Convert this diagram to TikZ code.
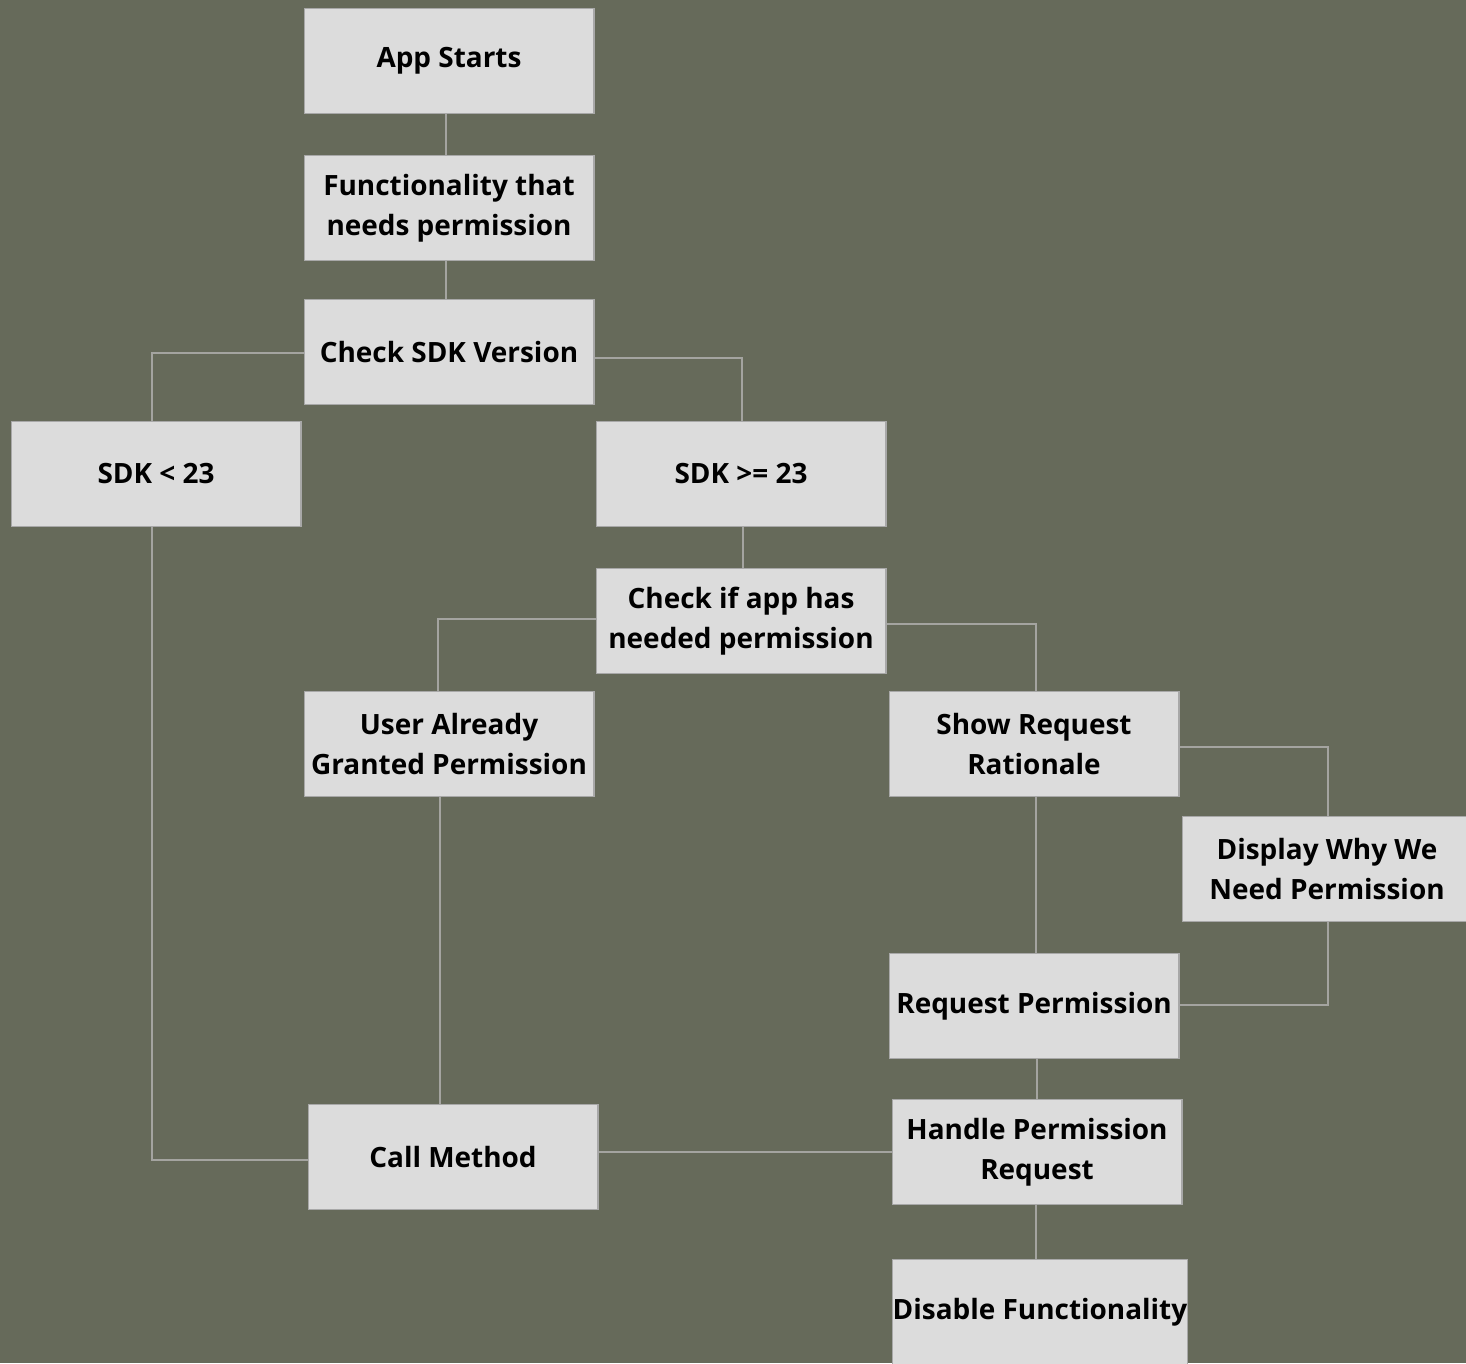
\documentclass[tikz,border=0pt]{standalone}
\usepackage{fontspec}
\setmainfont{Open Sans}
\usetikzlibrary{positioning}
\definecolor{bgolive}{HTML}{666A5A}
\definecolor{boxfill}{HTML}{DCDCDC}
\definecolor{boxline}{HTML}{A8A8A8}
\definecolor{wire}{HTML}{A4A4A0}

\begin{document}
\begin{tikzpicture}[
        x=0.02cm, y=-0.02cm,
        box/.style={draw=boxline, fill=boxfill, line width=0.6pt, align=center,
            minimum width=5.8cm, minimum height=2.1cm, inner sep=0pt,
            font=\fontsize{15.9}{23}\selectfont\bfseries},
        link/.style={draw=wire, line width=0.6pt}
    ]
        \fill[bgolive] (0,0) rectangle (1466,1363);
        \useasboundingbox (0,0) rectangle (1466,1363);

        \node[box] (start) at (449,61) {App Starts};
        \node[box] (func) at (449,208) {Functionality that\\needs permission};
        \node[box] (sdk) at (449,352) {Check SDK Version};
        \node[box] (low) at (156,474) {SDK < 23};
        \node[box] (high) at (741,474) {SDK >= 23};
        \node[box] (has) at (741,621) {Check if app has\\needed permission};
        \node[box] (granted) at (449,744) {User Already\\Granted Permission};
        \node[box] (rationale) at (1034,744) {Show Request\\Rationale};
        \node[box] (why) at (1327,869) {Display Why We\\Need Permission};
        \node[box] (request) at (1034,1006) {Request Permission};
        \node[box] (handle) at (1037,1152) {Handle Permission\\Request};
        \node[box] (call) at (453,1157) {Call Method};
        \node[box] (disable) at (1040,1312) {Disable Functionality};

        \draw[link] (start.south -| 446,0) -- (func.north -| 446,0);
        \draw[link] (func.south -| 446,0) -- (sdk.north -| 446,0);
        \draw[link] (sdk.west |- 0,353) -| (low.north -| 152,0);
        \draw[link] (sdk.east |- 0,358) -| (high.north -| 742,0);
        \draw[link] (high.south -| 743,0) -- (has.north -| 743,0);
        \draw[link] (has.west |- 0,619) -| (granted.north -| 438,0);
        \draw[link] (has.east |- 0,624) -| (rationale.north -| 1036,0);
        \draw[link] (rationale.east |- 0,747) -| (why.north -| 1328,0);
        \draw[link] (why.south -| 1328,0) |- (request.east |- 0,1005);
        \draw[link] (rationale.south -| 1036,0) -- (request.north -| 1036,0);
        \draw[link] (request.south -| 1037,0) -- (handle.north -| 1037,0);
        \draw[link] (handle.west |- 0,1152) -- (call.east |- 0,1152);
        \draw[link] (granted.south -| 440,0) -- (call.north -| 440,0);
        \draw[link] (low.south -| 152,0) |- (call.west |- 0,1160);
        \draw[link] (handle.south -| 1036,0) -- (disable.north -| 1036,0);
    \end{tikzpicture}
\end{document}
